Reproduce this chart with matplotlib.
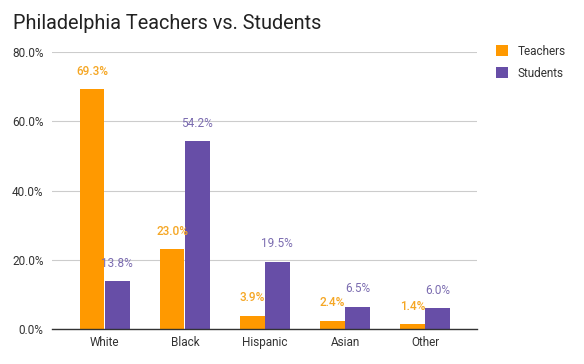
import matplotlib
matplotlib.use("Agg")
import matplotlib.pyplot as plt
import numpy as np

categories = ["White", "Black", "Hispanic", "Asian", "Other"]
teachers = [69.3, 23.0, 3.9, 2.4, 1.4]
students = [13.8, 54.2, 19.5, 6.5, 6.0]
yticks = [0, 20, 40, 60, 80]

plt.rcParams['font.family'] = ['Roboto', 'DejaVu Sans']

fig = plt.figure(figsize=(5.84, 3.64), dpi=100)
ax = fig.add_axes([0.089, 0.096, 0.728, 0.761])

x = np.arange(len(categories))
w = 0.31
c_t = "#FF9900"
c_s = "#674EA7"
ax.bar(x - w/2 - 0.005, teachers, w, color=c_t, label="Teachers", zorder=2)
ax.bar(x + w/2 + 0.005, students, w, color=c_s, label="Students", zorder=2)

for xi, v in zip(x, teachers):
    ax.annotate(f"{v:.1f}%", (xi - w/2, v), xytext=(0, 13), textcoords="offset points",
                ha="center", va="center", color="#F5A623", fontsize=8.5, weight="medium", zorder=3)
for xi, v in zip(x, students):
    ax.annotate(f"{v:.1f}%", (xi + w/2, v), xytext=(0, 13), textcoords="offset points",
                ha="center", va="center", color="#7B6CB0", fontsize=8.5, zorder=3)

ax.set_xlim(-0.66, 4.65)
ax.set_ylim(0, 80)
ax.set_yticks(yticks)
ax.set_yticklabels([f"{t:.1f}%" for t in yticks])
ax.set_xticks(x)
ax.set_xticklabels(categories)
ax.tick_params(axis='both', length=0, labelsize=8.5, colors="#333333")
ax.tick_params(axis='y', pad=6)
ax.tick_params(axis='x', pad=5)
ax.grid(axis='y', color="#CCCCCC", linewidth=0.8, zorder=0)
for s in ["top", "right", "left"]:
    ax.spines[s].set_visible(False)
ax.spines["bottom"].set_color("#333333")
ax.spines["bottom"].set_linewidth(1.0)
ax.spines["bottom"].set_zorder(4)

fig.text(0.022, 0.935, "Philadelphia Teachers vs. Students", fontsize=14.3, color="#222222",
         ha="left", va="center")

leg = ax.legend(loc="upper left", bbox_to_anchor=(1.02, 1.065), frameon=False,
                fontsize=8.5, handlelength=1.0, handleheight=1.0, handletextpad=0.8,
                labelspacing=0.75)
for t in leg.get_texts():
    t.set_color("#333333")

fig.savefig("out.png", dpi=100)
